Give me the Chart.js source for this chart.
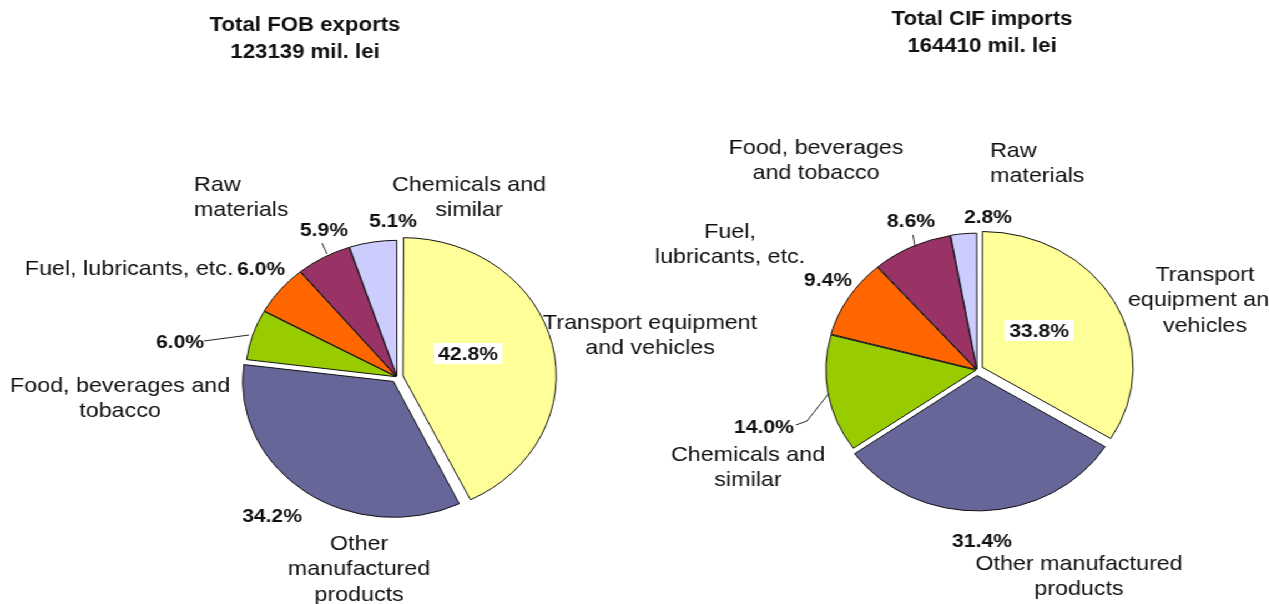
<!DOCTYPE html>
<html>
<head>
<meta charset="utf-8">
<script src="https://cdn.jsdelivr.net/npm/chart.js"></script>
<style>
    html, body { margin: 0; padding: 0; background: #fff; overflow: hidden; }
    /* the two pies are laid out on a narrower sheet and widened to the page */
    #sheet { position: relative; width: 1143px; height: 604px; transform: scaleX(1.11); transform-origin: 0 0; }
    #sheet canvas { position: absolute; left: 0; top: 0; }
</style>
</head>
<body>
<div id="sheet">
    <canvas id="exportChart" width="1143" height="604"></canvas>
    <canvas id="importChart" width="1143" height="604"></canvas>
</div>
<script>
// shares in %, in clockwise order starting at 12 o'clock
const exportCategories = ['Transport equipment and vehicles', 'Other manufactured products', 'Food, beverages and tobacco', 'Fuel, lubricants, etc.', 'Raw materials', 'Chemicals and similar'];
const exportShares = [42.8, 34.2, 6.0, 6.0, 5.9, 5.1];
const exportTotal = 123139;

const importCategories = ['Transport equipment and vehicles', 'Other manufactured products', 'Chemicals and similar', 'Fuel, lubricants, etc.', 'Food, beverages and tobacco', 'Raw materials'];
const importShares = [33.8, 31.4, 14.0, 9.4, 8.6, 2.8];
const importTotal = 164410;

const sliceColors = ['#ffff99', '#666699', '#99cc00', '#ff6600', '#993366', '#ccccff'];
const sliceOffsets = [22, 22, 4, 4, 4, 4];

const FONT = '"Liberation Sans", Arial, Helvetica, sans-serif';
const LINE = 25.5;

// label placement, relative to the pie centre
const exportLayout = [
    { label: { x: 227.9, y: -56, breaks: [2] }, value: { x: 64, y: -24, box: true } },
    { label: { x: -34.2, y: 165, breaks: [1, 2] }, value: { x: -112.6, y: 138 } },
    { label: { x: -249.5, y: 7, breaks: [3] }, value: { x: -195.5, y: -36 }, leader: [[-173.9, -36], [-133.3, -42]] },
    { label: { x: -241.4, y: -110, breaks: [] }, value: { x: -122.5, y: -109 } },
    { label: { x: -182.9, y: -194, breaks: [1], align: 'left' }, value: { x: -65.8, y: -148 }, leader: [[-67.6, -134], [-63.1, -123]] },
    { label: { x: 64.9, y: -194, breaks: [2] }, value: { x: -3.6, y: -157 } }
];

const importLayout = [
    { label: { x: 205.4, y: -97, breaks: [1, 3] }, value: { x: 55.9, y: -40, box: true } },
    { label: { x: 91.9, y: 192, breaks: [2] }, value: { x: 4.5, y: 170 } },
    { label: { x: -206.3, y: 83, breaks: [2] }, value: { x: -191.9, y: 56 }, leader: [[-163.1, 55], [-153.2, 51], [-133.3, 23]] },
    { label: { x: -222.5, y: -140, breaks: [1] }, value: { x: -134.2, y: -91 } },
    { label: { x: -145, y: -224, breaks: [2] }, value: { x: -59.5, y: -150 }, leader: [[-57.7, -135], [-55.9, -123]] },
    { label: { x: 11.7, y: -221, breaks: [1], align: 'left' }, value: { x: 9.9, y: -154 } }
];

function splitLines(name, breaks) {
    const words = name.split(' ');
    const cuts = [0, ...breaks, words.length];
    const lines = [];
    for (let i = 0; i < cuts.length - 1; i++) {
        lines.push(words.slice(cuts[i], cuts[i + 1]).join(' '));
    }
    return lines;
}

function labelPlugin(title, titleAt, layout) {
    return {
        id: 'pieLabels',
        afterDraw(chart) {
            const ctx = chart.ctx;
            const first = chart.getDatasetMeta(0).data[0];
            const cx = first.x, cy = first.y;
            const names = chart.data.labels;
            const values = chart.data.datasets[0].data;

            ctx.save();
            ctx.fillStyle = '#111';
            ctx.textBaseline = 'alphabetic';

            ctx.font = 'bold 20px ' + FONT;
            ctx.textAlign = 'center';
            title.forEach((t, i) => ctx.fillText(t, cx + titleAt[0], cy + titleAt[1] + i * 27 + 7));

            layout.forEach((l, i) => {
                // category name
                ctx.font = '21px ' + FONT;
                ctx.fillStyle = '#111';
                ctx.textAlign = l.label.align || 'center';
                splitLines(names[i], l.label.breaks).forEach((t, j) => {
                    ctx.fillText(t, cx + l.label.x, cy + l.label.y + j * LINE + 7.5);
                });

                // percentage
                const txt = values[i].toFixed(1) + '%';
                ctx.font = 'bold 19px ' + FONT;
                ctx.textAlign = 'center';
                const vx = cx + l.value.x, vy = cy + l.value.y;
                if (l.value.box) {
                    const w = ctx.measureText(txt).width + 8;
                    ctx.fillStyle = '#fff';
                    ctx.fillRect(vx - w / 2, vy - 10, w, 21);
                }
                ctx.fillStyle = '#111';
                ctx.fillText(txt, vx, vy + 7);

                if (l.leader) {
                    ctx.strokeStyle = '#222';
                    ctx.lineWidth = 1;
                    ctx.beginPath();
                    l.leader.forEach(([px, py], k) => {
                        if (k === 0) ctx.moveTo(cx + px, cy + py);
                        else ctx.lineTo(cx + px, cy + py);
                    });
                    ctx.stroke();
                }
            });
            ctx.restore();
        }
    };
}

function makePie(id, labels, values, pad, title, titleAt, layout) {
    return new Chart(document.getElementById(id), {
        type: 'pie',
        data: {
            labels: labels,
            datasets: [{
                data: values,
                backgroundColor: sliceColors,
                borderColor: '#111',
                borderWidth: 1,
                offset: sliceOffsets,
                radius: 135
            }]
        },
        options: {
            responsive: false,
            animation: false,
            events: [],
            layout: { padding: pad },
            plugins: {
                legend: { display: false },
                tooltip: { enabled: false }
            }
        },
        plugins: [labelPlugin(title, titleAt, layout)]
    });
}

makePie('exportChart', exportCategories, exportShares,
    { left: 0, right: 427.6, top: 150, bottom: 0 },
    ['Total FOB exports', exportTotal + ' mil. lei'], [-82.9, -353], exportLayout);

makePie('importChart', importCategories, importShares,
    { left: 617.4, right: 0, top: 136, bottom: 0 },
    ['Total CIF imports', importTotal + ' mil. lei'], [4.5, -352.5], importLayout);
</script>
</body>
</html>
